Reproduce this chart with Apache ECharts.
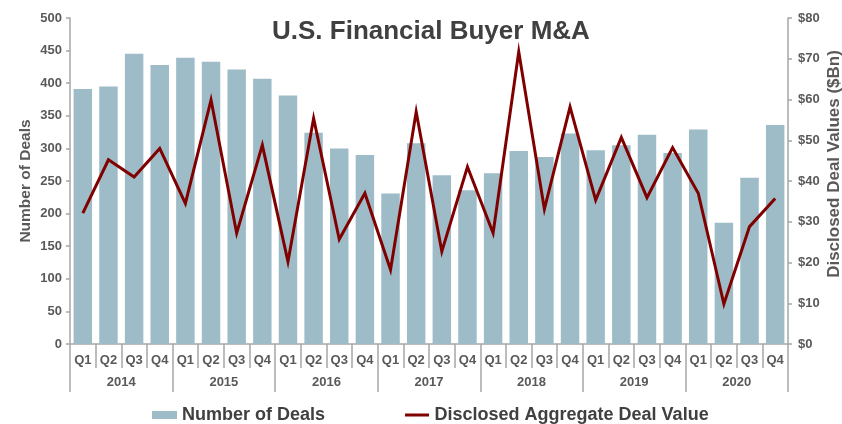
<!DOCTYPE html>
<html>
<head>
<meta charset="utf-8">
<script src="https://cdn.jsdelivr.net/npm/echarts@6/dist/echarts.min.js"></script>
<style>
html,body{margin:0;padding:0;background:#fff;overflow:hidden;}
#chart{width:842px;height:424px;}
</style>
</head>
<body>
<div id="chart"></div>
<script>
var quarters = ['Q1','Q2','Q3','Q4','Q1','Q2','Q3','Q4','Q1','Q2','Q3','Q4','Q1','Q2','Q3','Q4','Q1','Q2','Q3','Q4','Q1','Q2','Q3','Q4','Q1','Q2','Q3','Q4'];
var years = ['2014','2015','2016','2017','2018','2019','2020'];
var dealCounts = [391,395,445,428, 439,433,421,407, 381,324,300,290, 231,308,259,236, 262,296,287,323, 297,305,321,293, 329,186,255,336];
var dealValues = [32.1,45.2,41.0,48.0, 34.5,59.9,27.2,48.8, 20.2,55.4,25.7,37.0, 18.2,57.0,22.7,43.5, 27.2,71.7,33.1,58.2, 35.3,50.7,35.9,48.2, 37.0,9.8,28.8,35.7];
var leftTicks = {min:0, max:500, interval:50};
var rightTicks = {min:0, max:80, interval:10};

var FONT = "Arial, 'Liberation Sans', sans-serif";
var axisGrey = '#a6a6a6';
var labelGrey = '#595959';

var chart = echarts.init(document.getElementById('chart'), null, {renderer:'canvas'});
chart.setOption({
  animation:false,
  backgroundColor:'#fff',
  textStyle:{fontFamily:FONT},
  title:{
    text:'U.S. Financial Buyer M&A',
    left:267, top:14,
    textStyle:{fontFamily:FONT, fontSize:26, fontWeight:'bold', color:'#404040'}
  },
  legend:{
    left:147, top:401,
    itemWidth:25, itemHeight:8, itemGap:80,
    textStyle:{fontFamily:FONT, fontSize:18, fontWeight:'bold', color:'#404040'},
    data:[
      {name:'Number of Deals', icon:'rect'},
      {name:'Disclosed Aggregate Deal Value', icon:'path://M0,0M0,2.5L24,2.5L24,5.5L0,5.5ZM24,8'}
    ]
  },
  grid:{left:70, right:54, top:18, bottom:80, containLabel:false, outerBoundsMode:'none'},
  xAxis:[
    {
      type:'category', data:quarters, position:'bottom',
      axisLine:{show:true, lineStyle:{color:axisGrey, width:1.5}},
      axisTick:{show:true, interval:0, length:24, lineStyle:{color:axisGrey, width:1.5}},
      axisLabel:{interval:0, margin:10, fontFamily:FONT, fontSize:13, fontWeight:'bold', color:labelGrey}
    },
    {
      type:'category', data:years, position:'bottom',
      axisLine:{show:false},
      axisTick:{show:true, interval:0, length:48, lineStyle:{color:axisGrey, width:1.5}},
      axisLabel:{interval:0, margin:32, fontFamily:FONT, fontSize:13, fontWeight:'bold', color:labelGrey}
    }
  ],
  yAxis:[
    {
      type:'value', min:leftTicks.min, max:leftTicks.max, interval:leftTicks.interval, position:'left',
      name:'Number of Deals', nameLocation:'middle', nameGap:36, nameRotate:90, nameMoveOverlap:false,
      nameTextStyle:{fontFamily:FONT, fontSize:15.5, fontWeight:'bold', color:labelGrey},
      axisLine:{show:true, lineStyle:{color:axisGrey, width:1.5}},
      axisTick:{show:true, length:4, lineStyle:{color:axisGrey, width:1.5}},
      splitLine:{show:false},
      axisLabel:{margin:8, fontFamily:FONT, fontSize:13, fontWeight:'bold', color:labelGrey}
    },
    {
      type:'value', min:rightTicks.min, max:rightTicks.max, interval:rightTicks.interval, position:'right',
      name:'Disclosed Deal Values ($Bn)', nameLocation:'middle', nameGap:38, nameRotate:90, nameMoveOverlap:false,
      nameTextStyle:{fontFamily:FONT, fontSize:17, fontWeight:'bold', color:labelGrey, padding:[0,0,0,34]},
      axisLine:{show:true, lineStyle:{color:axisGrey, width:1.5}},
      axisTick:{show:true, length:4, lineStyle:{color:axisGrey, width:1.5}},
      splitLine:{show:false},
      axisLabel:{margin:10, formatter:'${value}', fontFamily:FONT, fontSize:13, fontWeight:'bold', color:labelGrey}
    }
  ],
  series:[
    {
      name:'Number of Deals', type:'bar', xAxisIndex:0, yAxisIndex:0,
      data:dealCounts, barCategoryGap:'28%',
      itemStyle:{color:'#9dbcc8'}
    },
    {
      name:'Disclosed Aggregate Deal Value', type:'line', xAxisIndex:0, yAxisIndex:1,
      data:dealValues, symbol:'none',
      lineStyle:{color:'#800000', width:3, join:'miter'},
      itemStyle:{color:'#800000'}
    }
  ]
});
</script>
</body>
</html>
